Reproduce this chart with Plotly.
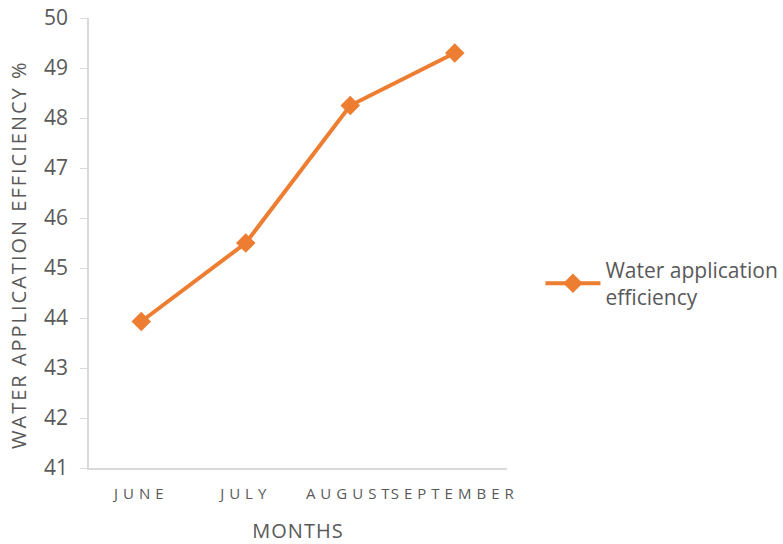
import plotly.graph_objects as go

months = ["JUNE", "JULY", "AUGUST", "SEPTEMBER"]
efficiency = [43.93, 45.5, 48.25, 49.3]
series_name = "Water application<br>efficiency"
y_ticks = [41, 42, 43, 44, 45, 46, 47, 48, 49, 50]
y_title = "WATER APPLICATION EFFICIENCY %"
x_title = "MONTHS"

orange = "#ED7D31"
gray = "#595959"
font_family = "Open Sans, Liberation Sans, sans-serif"

fig = go.Figure()
fig.add_trace(go.Scatter(
    x=months, y=efficiency, mode="lines+markers", name=series_name,
    line=dict(color=orange, width=4),
    marker=dict(symbol="diamond", size=15, color=orange),
))

fig.update_layout(
    width=783, height=544,
    margin=dict(l=89, r=276, t=18, b=76, autoexpand=False),
    paper_bgcolor="white", plot_bgcolor="white",
    font=dict(family=font_family, color=gray),
    showlegend=True,
    legend=dict(x=1.08, y=0.41, xanchor="left", yanchor="middle",
                font=dict(size=21, color=gray, family=font_family),
                itemwidth=55, bgcolor="rgba(0,0,0,0)"),
    xaxis=dict(
        type="category", range=[-0.5, len(months) - 0.5],
        showgrid=False, showline=True, linecolor="#d9d9d9", linewidth=1.5,
        ticks="", tickfont=dict(size=15, color=gray), automargin=False,
        ticklabelstandoff=11,
        title=dict(text=x_title, font=dict(size=20, color=gray), standoff=22),
    ),
    yaxis=dict(
        range=[41, 50], tickvals=y_ticks, showgrid=False, showline=True, automargin=False,
        linecolor="#d9d9d9", linewidth=1.5, ticks="outside", ticklen=7, tickcolor="#d9d9d9",
        tickfont=dict(size=21, color=gray), zeroline=False, ticklabelstandoff=8,
    ),
    annotations=[dict(
        text=y_title, textangle=-90, xref="paper", yref="paper",
        x=-0.167, y=0.474, xanchor="center", yanchor="middle", showarrow=False,
        font=dict(size=20, color=gray, family=font_family),
    )],
)

post = """
document.body.style.margin='0';
document.body.style.overflow='hidden';
function spacing(){
  document.querySelectorAll('.xtick text').forEach(function(t){t.style.letterSpacing='5px';});
  document.querySelectorAll('.annotation-text').forEach(function(t){t.style.letterSpacing='2px';});
  document.querySelectorAll('.g-xtitle text').forEach(function(t){t.style.letterSpacing='1px';});
}
spacing();
var gd = document.getElementById('{plot_id}');
if (gd && gd.on) { gd.on('plotly_afterplot', spacing); }
"""

fig.write_html("out.html", post_script=post, config={"displayModeBar": False})
